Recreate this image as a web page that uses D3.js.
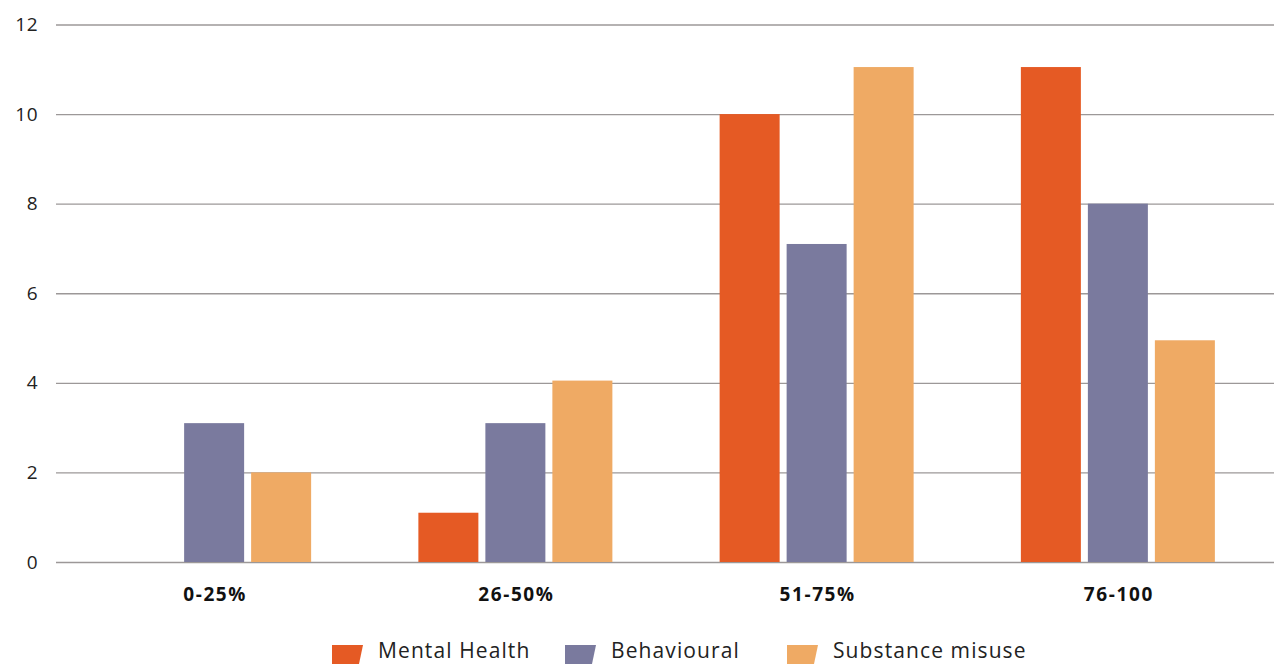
<!DOCTYPE html>
<html>
<head>
<meta charset="utf-8">
<script src="https://cdn.jsdelivr.net/npm/d3@7"></script>
<style>
html,body{margin:0;padding:0;background:#fff;}
svg{display:block;}
</style>
</head>
<body>
<svg id="chart" width="1274" height="664"></svg>
<script>
const categories = ["0-25%", "26-50%", "51-75%", "76-100"];
const seriesNames = ["Mental Health", "Behavioural", "Substance misuse"];
const mentalHealth = [0, 1.1, 10, 11.05];
const behavioural = [3.1, 3.1, 7.1, 8];
const substanceMisuse = [2, 4.05, 11.05, 4.95];
const yTicks = [0, 2, 4, 6, 8, 10, 12];
const colors = ["#E55A24", "#7A7A9E", "#EFAA64"];

const seriesValues = [mentalHealth, behavioural, substanceMisuse];
const svg = d3.select("#chart");
const font = "'Open Sans', sans-serif";

const y = d3.scaleLinear().domain([0, 12]).range([562, 24.5]);
const x = d3.scaleBand().domain(categories).range([63.5, 1268.5]).paddingInner(0).paddingOuter(0);
const inner = d3.scaleBand().domain(seriesNames).range([0, 194]).paddingInner(7/67).paddingOuter(0);

// gridlines
const yAxis = d3.axisLeft(y).tickValues(yTicks).tickSize(-(1274 - 56)).tickPadding(18).tickFormat(d3.format("d"));
const gy = svg.append("g").attr("transform", "translate(56,0)").call(yAxis);
gy.select(".domain").remove();
gy.selectAll(".tick line").attr("stroke", "#9c9898").attr("stroke-width", 1.3);
gy.selectAll(".tick text").attr("font-family", font).attr("font-size", 19).attr("fill", "#222").attr("x", -18).attr("letter-spacing", 0.5);

// bars
const groups = svg.append("g").selectAll("g").data(categories).join("g")
  .attr("transform", c => `translate(${x(c) + x.bandwidth()/2 - 97},0)`);
groups.selectAll("rect").data((c, i) => seriesNames.map((s, j) => ({s, j, v: seriesValues[j][i]})))
  .join("rect")
  .attr("x", d => inner(d.s))
  .attr("width", inner.bandwidth())
  .attr("y", d => y(d.v))
  .attr("height", d => y(0) - y(d.v))
  .attr("fill", d => colors[d.j]);

// x labels
const xAxis = d3.axisBottom(x).tickSize(0).tickPadding(0);
const gx = svg.append("g").attr("transform", "translate(0,582)").call(xAxis);
gx.select(".domain").remove();
gx.selectAll(".tick text").attr("font-family", font).attr("font-size", 19).attr("font-weight", "bold")
  .attr("fill", "#111").attr("dy", "1em").attr("letter-spacing", 1.6).attr("dx", 1);

// legend
const legendX = [332, 565, 787];
const lg = svg.append("g").selectAll("g").data(seriesNames).join("g")
  .attr("transform", (d, i) => `translate(${legendX[i]},0)`);
lg.append("path").attr("d", "M0,645 L31,645 L27,664 L0,664 Z").attr("fill", (d, i) => colors[i]);
lg.append("text").attr("x", 46).attr("y", 658).text(d => d)
  .attr("font-family", font).attr("font-size", 21).attr("letter-spacing", 1.1).attr("fill", "#222");
</script>
</body>
</html>
